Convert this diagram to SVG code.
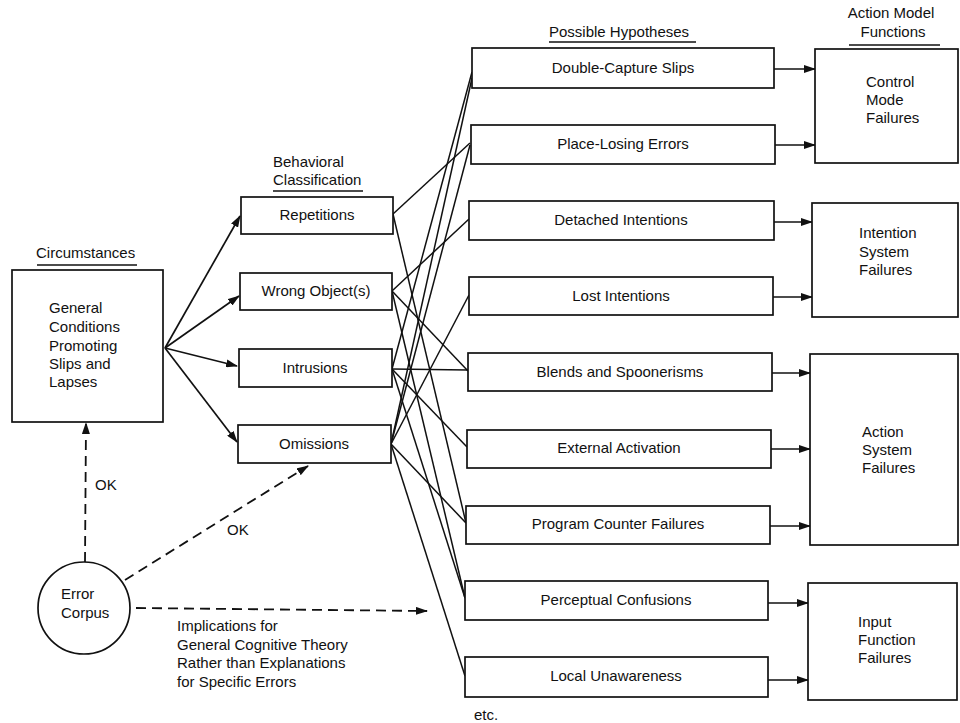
<svg xmlns="http://www.w3.org/2000/svg" width="960" height="723" viewBox="0 0 960 723">
<defs>
<marker id="ah" markerUnits="userSpaceOnUse" markerWidth="12" markerHeight="8" refX="11" refY="4" orient="auto">
<path d="M0,0 L12,4 L0,8 z" fill="#111"/>
</marker>
</defs>
<style>
text{font-family:"Liberation Sans",Arial,sans-serif;font-size:15px;fill:#111}
.m{text-anchor:middle}
.box{fill:#fff;stroke:#111;stroke-width:1.7}
.ln{stroke:#111;stroke-width:1.5;fill:none}
.ar{stroke:#111;stroke-width:1.7;fill:none;marker-end:url(#ah)}
.da{stroke:#111;stroke-width:1.8;fill:none;stroke-dasharray:10 6;marker-end:url(#ah)}
.ul{stroke:#111;stroke-width:1.3}
</style>
<rect width="960" height="723" fill="#fff"/>

<g id="headers">
<text x="36" y="258">Circumstances</text>
<line class="ul" x1="37" y1="265" x2="137" y2="265"/>
<text x="273" y="167">Behavioral</text>
<text x="273" y="185">Classification</text>
<line class="ul" x1="273" y1="191" x2="363" y2="191"/>
<text x="549" y="37">Possible Hypotheses</text>
<line class="ul" x1="549" y1="42" x2="696" y2="42"/>
<text class="m" x="891" y="18">Action Model</text>
<text class="m" x="893" y="37">Functions</text>
<line class="ul" x1="849" y1="45" x2="940" y2="45"/>
</g>

<g id="connectors">
<line class="ar" x1="165" y1="348" x2="240" y2="216"/>
<line class="ar" x1="165" y1="348" x2="239" y2="296"/>
<line class="ar" x1="165" y1="348" x2="237" y2="366"/>
<line class="ar" x1="165" y1="348" x2="237" y2="442"/>
<line class="da" x1="85" y1="562" x2="86" y2="423"/>
<line class="da" x1="125" y1="580" x2="308" y2="466"/>
<line class="da" x1="136" y1="608" x2="427" y2="611"/>
<line class="ln" x1="393" y1="214" x2="470" y2="143"/>
<line class="ln" x1="393" y1="214" x2="466" y2="523"/>
<line class="ln" x1="392" y1="291" x2="469" y2="219"/>
<line class="ln" x1="392" y1="291" x2="468" y2="371"/>
<line class="ln" x1="392" y1="291" x2="465" y2="598"/>
<line class="ln" x1="392" y1="369" x2="472" y2="72"/>
<line class="ln" x1="392" y1="369" x2="468" y2="370"/>
<line class="ln" x1="392" y1="369" x2="467" y2="447"/>
<line class="ln" x1="392" y1="369" x2="465" y2="598"/>
<line class="ln" x1="391" y1="444" x2="472" y2="78"/>
<line class="ln" x1="391" y1="444" x2="470" y2="145"/>
<line class="ln" x1="391" y1="444" x2="469" y2="295"/>
<line class="ln" x1="391" y1="444" x2="466" y2="523"/>
<line class="ln" x1="391" y1="444" x2="465" y2="676"/>
<line class="ar" x1="774" y1="69" x2="815" y2="69"/>
<line class="ar" x1="775" y1="145" x2="815" y2="145"/>
<line class="ar" x1="774" y1="222" x2="812" y2="222"/>
<line class="ar" x1="773" y1="297" x2="812" y2="297"/>
<line class="ar" x1="772" y1="373" x2="810" y2="373"/>
<line class="ar" x1="771" y1="449" x2="810" y2="449"/>
<line class="ar" x1="770" y1="526" x2="810" y2="526"/>
<line class="ar" x1="768" y1="603" x2="808" y2="603"/>
<line class="ar" x1="768" y1="680" x2="808" y2="680"/>
</g>

<g id="labels">
<text x="95" y="490">OK</text>
<text x="227" y="535">OK</text>
<text x="177" y="631">Implications for</text>
<text x="177" y="650">General Cognitive Theory</text>
<text x="177" y="668">Rather than Explanations</text>
<text x="177" y="687">for Specific Errors</text>
<text class="m" x="486" y="720">etc.</text>
</g>

<g id="circumstances">
<rect class="box" x="12" y="270" width="151" height="152"/>
<text x="49" y="313">General</text>
<text x="49" y="332">Conditions</text>
<text x="49" y="351">Promoting</text>
<text x="49" y="369">Slips and</text>
<text x="49" y="387">Lapses</text>
</g>

<g id="error-corpus">
<circle cx="84" cy="608" r="46" fill="#fff" stroke="#111" stroke-width="1.7"/>
<text x="61" y="599">Error</text>
<text x="61" y="618">Corpus</text>
</g>

<g id="repetitions"><rect class="box" x="241" y="197" width="152" height="37"/><text class="m" x="317" y="220">Repetitions</text></g>
<g id="wrong-object"><rect class="box" x="240" y="273" width="152" height="37"/><text class="m" x="316" y="296">Wrong Object(s)</text></g>
<g id="intrusions"><rect class="box" x="239" y="349" width="153" height="38"/><text class="m" x="315" y="373">Intrusions</text></g>
<g id="omissions"><rect class="box" x="238" y="425" width="153" height="38"/><text class="m" x="314" y="449">Omissions</text></g>

<g id="double-capture"><rect class="box" x="472" y="48" width="302" height="40"/><text class="m" x="623" y="73">Double-Capture Slips</text></g>
<g id="place-losing"><rect class="box" x="471" y="125" width="304" height="39"/><text class="m" x="623" y="149">Place-Losing Errors</text></g>
<g id="detached"><rect class="box" x="469" y="201" width="305" height="39"/><text class="m" x="621" y="225">Detached Intentions</text></g>
<g id="lost"><rect class="box" x="469" y="277" width="304" height="38"/><text class="m" x="621" y="301">Lost Intentions</text></g>
<g id="blends"><rect class="box" x="468" y="353" width="304" height="38"/><text class="m" x="620" y="377">Blends and Spoonerisms</text></g>
<g id="external"><rect class="box" x="467" y="430" width="304" height="38"/><text class="m" x="619" y="453">External Activation</text></g>
<g id="program-counter"><rect class="box" x="466" y="506" width="304" height="38"/><text class="m" x="618" y="529">Program Counter Failures</text></g>
<g id="perceptual"><rect class="box" x="465" y="581" width="303" height="39"/><text class="m" x="616" y="605">Perceptual Confusions</text></g>
<g id="local"><rect class="box" x="465" y="657" width="303" height="40"/><text class="m" x="616" y="681">Local Unawareness</text></g>

<g id="control-mode"><rect class="box" x="815" y="49" width="143" height="114"/><text x="866" y="87">Control</text><text x="866" y="105">Mode</text><text x="866" y="123">Failures</text></g>
<g id="intention-system"><rect class="box" x="812" y="203" width="146" height="114"/><text x="859" y="238">Intention</text><text x="859" y="257">System</text><text x="859" y="275">Failures</text></g>
<g id="action-system"><rect class="box" x="810" y="354" width="148" height="191"/><text x="862" y="437">Action</text><text x="862" y="455">System</text><text x="862" y="473">Failures</text></g>
<g id="input-function"><rect class="box" x="808" y="583" width="149" height="117"/><text x="858" y="627">Input</text><text x="858" y="645">Function</text><text x="858" y="663">Failures</text></g>
</svg>
